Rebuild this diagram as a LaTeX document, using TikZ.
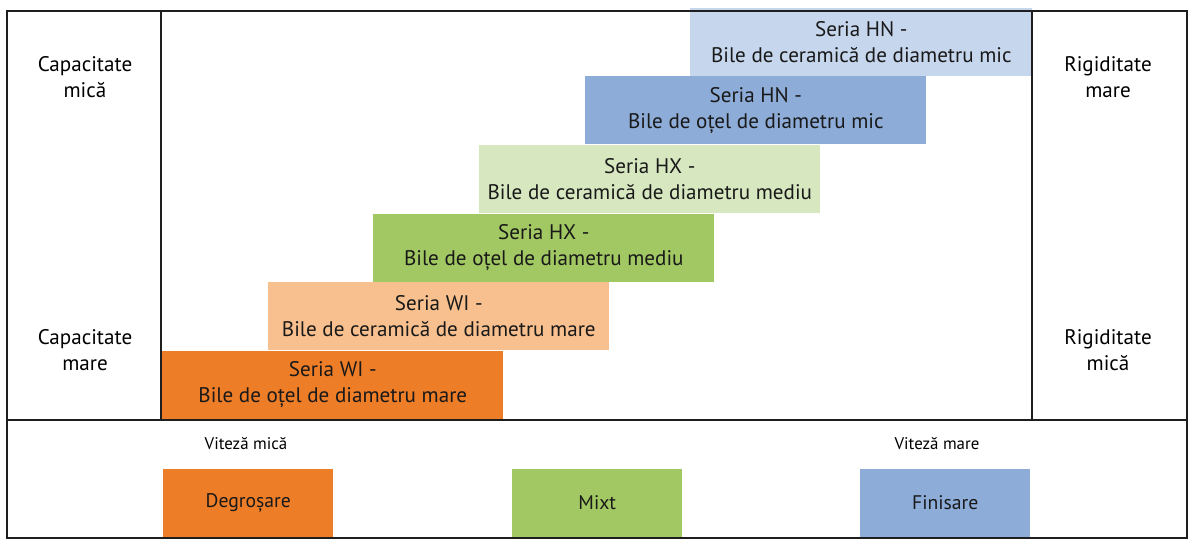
\documentclass[tikz,border=0pt]{standalone}
\usepackage{fontspec}
\setmainfont{PT Sans}
\definecolor{hnlight}{RGB}{198,214,236}
\definecolor{hndark}{RGB}{141,172,216}
\definecolor{hxlight}{RGB}{215,231,192}
\definecolor{hxdark}{RGB}{161,200,98}
\definecolor{wilight}{RGB}{248,192,142}
\definecolor{widark}{RGB}{238,125,40}
\definecolor{framegray}{RGB}{30,30,30}
\usetikzlibrary{positioning,calc}

\begin{document}
\begin{tikzpicture}[x=0.025cm, y=-0.025cm,
    bar/.style={anchor=south west, inner sep=0pt, align=center,
      minimum width=8.525cm, minimum height=1.7cm, text=black!90,
      font=\fontsize{15}{18.5}\selectfont},
    mode/.style={anchor=south west, inner sep=0pt,
      minimum width=4.25cm, minimum height=1.7cm, text=black!90,
      font=\fontsize{14}{16}\selectfont},
    side/.style={align=center, font=\fontsize{15}{18.5}\selectfont},
    speed/.style={font=\fontsize{12}{14}\selectfont}]
  \useasboundingbox (0,0) rectangle (1193,545);

  % staircase of series
  \node[bar, fill=widark] (wiotel) at (162,419) {Seria WI -\\Bile de oțel de diametru mare};
  \node[bar, fill=wilight] (wicer) at ($(wiotel.north west)+(106,0)$) {Seria WI -\\Bile de ceramică de diametru mare};
  \node[bar, fill=hxdark] (hxotel) at ($(wicer.north west)+(105,0)$) {Seria HX -\\Bile de oțel de diametru mediu};
  \node[bar, fill=hxlight] (hxcer) at ($(hxotel.north west)+(106,0)$) {Seria HX -\\Bile de ceramică de diametru mediu};
  \node[bar, fill=hndark] (hnotel) at ($(hxcer.north west)+(106,0)$) {Seria HN -\\Bile de oțel de diametru mic};
  \node[bar, fill=hnlight, minimum width=8.55cm] (hncer) at ($(hnotel.north west)+(105,0)$) {Seria HN -\\Bile de ceramică de diametru mic};

  % frame
  \draw[framegray, line width=1.4pt] (7,11) rectangle (1187,538);
  \draw[framegray, line width=1.4pt] (7,420) -- (1187,420);
  \draw[framegray, line width=1pt] (161,11) -- (161,420);
  \draw[framegray, line width=1pt] (1032,11) -- (1032,420);

  % side labels
  \node[side] (capmica) at (85,77) {Capacitate\\mică};
  \node[side] (capmare) at (85,350) {Capacitate\\mare};
  \node[side] (rigmare) at (1108,77) {Rigiditate\\mare};
  \node[side] (rigmica) at (1108,350) {Rigiditate\\mică};

  % machining modes
  \node[speed] (vmica) at (246,444) {Viteză mică};
  \node[speed] (vmare) at (937,444) {Viteză mare};
  \node[mode, fill=widark] (degrosare) at (163,537) {Degroșare};
  \node[mode, fill=hxdark] (mixt) at (512,537) {Mixt};
  \node[mode, fill=hndark] (finisare) at (860,537) {Finisare};
\end{tikzpicture}
\end{document}
